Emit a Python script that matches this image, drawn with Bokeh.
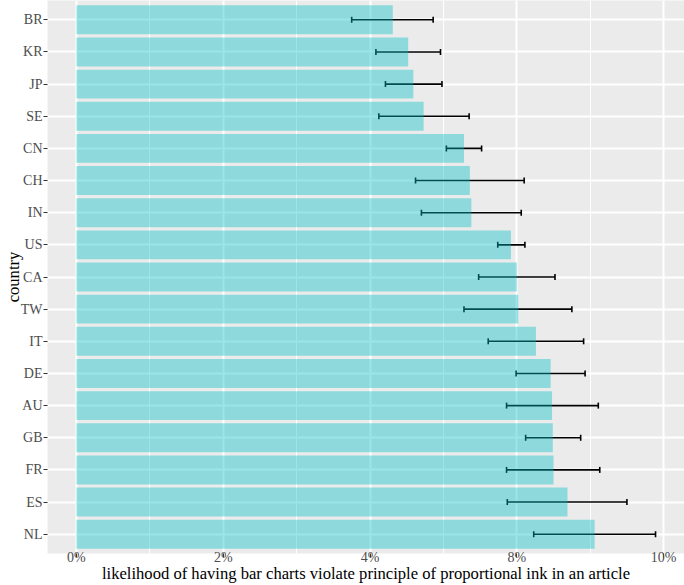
from bokeh.plotting import figure
from bokeh.models import FactorRange, Range1d, FixedTicker, Whisker, TeeHead, ColumnDataSource
from bokeh.embed import file_html
from bokeh.resources import INLINE

countries = ["BR", "KR", "JP", "SE", "CN", "CH", "IN", "US", "CA", "TW",
             "IT", "DE", "AU", "GB", "FR", "ES", "NL"]
likelihood = [4.31, 4.52, 4.59, 4.73, 5.28, 5.36, 5.38, 5.92, 6.00, 6.02,
              6.26, 6.46, 6.48, 6.49, 6.50, 6.69, 7.06]
lower = [3.75, 4.08, 4.21, 4.12, 5.04, 4.62, 4.70, 5.74, 5.48, 5.28,
         5.61, 5.99, 5.86, 6.12, 5.86, 5.87, 6.23]
upper = [4.86, 4.96, 4.98, 5.35, 5.52, 6.10, 6.06, 6.11, 6.52, 6.75,
         6.91, 6.93, 7.11, 6.87, 7.13, 7.50, 7.89]
tick_values = [0, 2, 4, 6, 8]
tick_labels = ["0%", "2%", "4%", "8%", "10%"]
minor_values = [1, 3, 5, 7]
x_title = "likelihood of having bar charts violate principle of proportional ink in an article"
y_title = "country"

src = ColumnDataSource(dict(country=countries, value=likelihood, lo=lower, hi=upper))

span = max(upper)
pad = 0.05 * span

p = figure(width=684, height=585, output_backend="svg", toolbar_location=None,
           y_range=FactorRange(factors=countries[::-1], range_padding=0.1,
                               range_padding_units="absolute"),
           x_range=Range1d(-pad, span + pad),
           min_border_left=0, min_border_bottom=0, min_border_top=0, min_border_right=0)

p.background_fill_color = "#EBEBEB"
p.border_fill_color = "white"
p.outline_line_color = None

p.hbar(y="country", left=0, right="value", height=0.9, source=src,
       fill_color="#00BFC4", fill_alpha=0.4, line_color=None)

w = Whisker(base="country", lower="lo", upper="hi", dimension="width", source=src,
            line_color="black", line_width=1.6,
            upper_head=TeeHead(size=6, line_color="black", line_width=1.6),
            lower_head=TeeHead(size=6, line_color="black", line_width=1.6))
p.add_layout(w)

p.xaxis.ticker = FixedTicker(ticks=tick_values, minor_ticks=minor_values)
p.xaxis.major_label_overrides = {t: l for t, l in zip(tick_values, tick_labels)}

for ax in (p.xaxis[0], p.yaxis[0]):
    ax.axis_line_color = None
    ax.major_tick_line_color = "#333333"
    ax.major_tick_out = 4
    ax.major_tick_in = 0
    ax.minor_tick_line_color = None
    ax.major_label_text_font = "Liberation Serif"
    ax.major_label_text_font_size = "14px"
    ax.major_label_text_color = "#4D4D4D"
    ax.major_label_text_line_height = 1.0
    ax.axis_label_text_font = "Liberation Serif"
    ax.axis_label_text_font_size = "16.6px"
    ax.axis_label_text_font_style = "normal"
    ax.axis_label_text_color = "black"
    ax.axis_label_text_line_height = 1.0

p.xaxis.major_label_standoff = -8
p.xaxis.axis_label_standoff = -4
p.yaxis.major_label_standoff = 1
p.yaxis.axis_label_standoff = -5

p.xaxis.axis_label = x_title
p.yaxis.axis_label = y_title

p.xgrid.grid_line_color = "white"
p.xgrid.grid_line_width = 2
p.xgrid.minor_grid_line_color = "white"
p.xgrid.minor_grid_line_width = 1
p.ygrid.grid_line_color = "white"
p.ygrid.grid_line_width = 2

open("out.html", "w").write(file_html(p, INLINE))
